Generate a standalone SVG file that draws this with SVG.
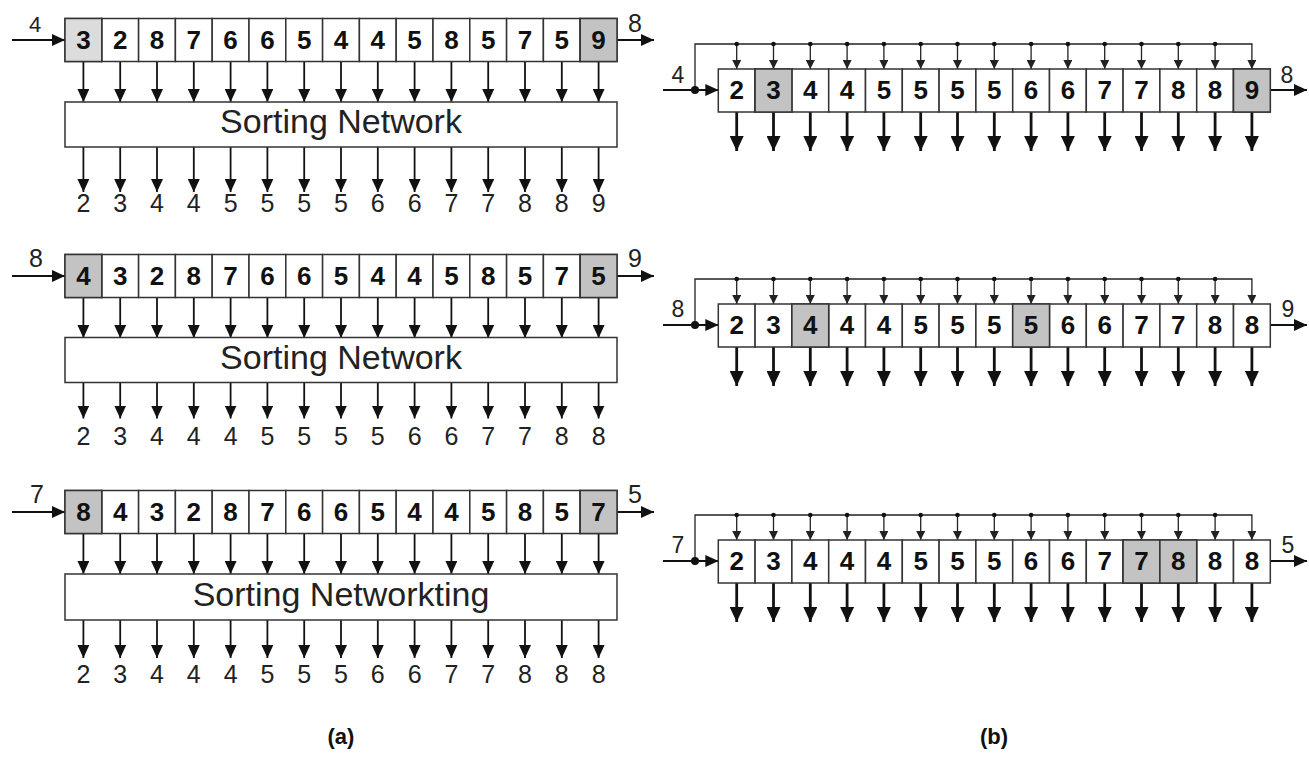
<svg xmlns="http://www.w3.org/2000/svg" xmlns:xlink="http://www.w3.org/1999/xlink" width="1309" height="758" viewBox="0 0 1309 758">
<style>
.cell{fill:#fff;stroke:#333;stroke-width:1.5}
.sh1{fill:#dcdcdc;stroke:#333;stroke-width:1.5}
.sh2{fill:#c3c3c3;stroke:#333;stroke-width:1.5}
.box{fill:#fff;stroke:#333;stroke-width:1.5}
.d{font-family:"Liberation Sans",Arial,sans-serif;font-weight:bold;font-size:26px;text-anchor:middle;fill:#111}
.o{font-family:"Liberation Sans",Arial,sans-serif;font-size:25px;text-anchor:middle;fill:#222}
.lbl{font-family:"Liberation Sans",Arial,sans-serif;font-size:25px;text-anchor:middle;fill:#222}
.sn{font-family:"Liberation Sans",Arial,sans-serif;font-size:34px;text-anchor:middle;fill:#222}
.cap{font-family:"Liberation Sans",Arial,sans-serif;font-weight:bold;font-size:22px;text-anchor:middle;fill:#111}
.ar{stroke:#111;stroke-width:1.8;fill:none;marker-end:url(#ah)}
.art{stroke:#111;stroke-width:2.8;fill:none;marker-end:url(#aht)}
.ars{stroke:#222;stroke-width:1.3;fill:none;marker-end:url(#ahs)}
.dot{fill:#111}
</style>
<defs>
<marker id="ah" markerUnits="userSpaceOnUse" viewBox="0 0 13 12" markerWidth="13" markerHeight="12" refX="13" refY="6" orient="auto"><path d="M0,0L13,6L0,12z" fill="#111"/></marker>
<marker id="aht" markerUnits="userSpaceOnUse" viewBox="0 0 15 14" markerWidth="15" markerHeight="14" refX="15" refY="7" orient="auto"><path d="M0,0L15,7L0,14z" fill="#111"/></marker>
<marker id="ahs" markerUnits="userSpaceOnUse" viewBox="0 0 9 9" markerWidth="9" markerHeight="9" refX="9" refY="4.5" orient="auto"><path d="M0,0L9,4.5L0,9z" fill="#222"/></marker>
<g id="lrow">
<rect class="cell" x="65" y="0" width="36.8" height="43"/><rect class="cell" x="101.8" y="0" width="36.8" height="43"/><rect class="cell" x="138.6" y="0" width="36.8" height="43"/><rect class="cell" x="175.4" y="0" width="36.8" height="43"/><rect class="cell" x="212.2" y="0" width="36.8" height="43"/><rect class="cell" x="249" y="0" width="36.8" height="43"/><rect class="cell" x="285.8" y="0" width="36.8" height="43"/><rect class="cell" x="322.6" y="0" width="36.8" height="43"/><rect class="cell" x="359.4" y="0" width="36.8" height="43"/><rect class="cell" x="396.2" y="0" width="36.8" height="43"/><rect class="cell" x="433" y="0" width="36.8" height="43"/><rect class="cell" x="469.8" y="0" width="36.8" height="43"/><rect class="cell" x="506.6" y="0" width="36.8" height="43"/><rect class="cell" x="543.4" y="0" width="36.8" height="43"/><rect class="cell" x="580.2" y="0" width="36.8" height="43"/>
</g>
<g id="rrow">
<rect class="cell" x="718.3" y="0" width="36.8" height="43"/><rect class="cell" x="755.1" y="0" width="36.8" height="43"/><rect class="cell" x="791.9" y="0" width="36.8" height="43"/><rect class="cell" x="828.7" y="0" width="36.8" height="43"/><rect class="cell" x="865.5" y="0" width="36.8" height="43"/><rect class="cell" x="902.3" y="0" width="36.8" height="43"/><rect class="cell" x="939.1" y="0" width="36.8" height="43"/><rect class="cell" x="975.9" y="0" width="36.8" height="43"/><rect class="cell" x="1012.7" y="0" width="36.8" height="43"/><rect class="cell" x="1049.5" y="0" width="36.8" height="43"/><rect class="cell" x="1086.3" y="0" width="36.8" height="43"/><rect class="cell" x="1123.1" y="0" width="36.8" height="43"/><rect class="cell" x="1159.9" y="0" width="36.8" height="43"/><rect class="cell" x="1196.7" y="0" width="36.8" height="43"/><rect class="cell" x="1233.5" y="0" width="36.8" height="43"/>
</g>
<g id="ld40">
<line class="ar" x1="83.4" y1="0" x2="83.4" y2="40"/><line class="ar" x1="120.2" y1="0" x2="120.2" y2="40"/><line class="ar" x1="157" y1="0" x2="157" y2="40"/><line class="ar" x1="193.8" y1="0" x2="193.8" y2="40"/><line class="ar" x1="230.6" y1="0" x2="230.6" y2="40"/><line class="ar" x1="267.4" y1="0" x2="267.4" y2="40"/><line class="ar" x1="304.2" y1="0" x2="304.2" y2="40"/><line class="ar" x1="341" y1="0" x2="341" y2="40"/><line class="ar" x1="377.8" y1="0" x2="377.8" y2="40"/><line class="ar" x1="414.6" y1="0" x2="414.6" y2="40"/><line class="ar" x1="451.4" y1="0" x2="451.4" y2="40"/><line class="ar" x1="488.2" y1="0" x2="488.2" y2="40"/><line class="ar" x1="525" y1="0" x2="525" y2="40"/><line class="ar" x1="561.8" y1="0" x2="561.8" y2="40"/><line class="ar" x1="598.6" y1="0" x2="598.6" y2="40"/>
</g>
<g id="ld45">
<line class="ar" x1="83.4" y1="0" x2="83.4" y2="45"/><line class="ar" x1="120.2" y1="0" x2="120.2" y2="45"/><line class="ar" x1="157" y1="0" x2="157" y2="45"/><line class="ar" x1="193.8" y1="0" x2="193.8" y2="45"/><line class="ar" x1="230.6" y1="0" x2="230.6" y2="45"/><line class="ar" x1="267.4" y1="0" x2="267.4" y2="45"/><line class="ar" x1="304.2" y1="0" x2="304.2" y2="45"/><line class="ar" x1="341" y1="0" x2="341" y2="45"/><line class="ar" x1="377.8" y1="0" x2="377.8" y2="45"/><line class="ar" x1="414.6" y1="0" x2="414.6" y2="45"/><line class="ar" x1="451.4" y1="0" x2="451.4" y2="45"/><line class="ar" x1="488.2" y1="0" x2="488.2" y2="45"/><line class="ar" x1="525" y1="0" x2="525" y2="45"/><line class="ar" x1="561.8" y1="0" x2="561.8" y2="45"/><line class="ar" x1="598.6" y1="0" x2="598.6" y2="45"/>
</g>
<g id="ld36">
<line class="ar" x1="83.4" y1="0" x2="83.4" y2="36"/><line class="ar" x1="120.2" y1="0" x2="120.2" y2="36"/><line class="ar" x1="157" y1="0" x2="157" y2="36"/><line class="ar" x1="193.8" y1="0" x2="193.8" y2="36"/><line class="ar" x1="230.6" y1="0" x2="230.6" y2="36"/><line class="ar" x1="267.4" y1="0" x2="267.4" y2="36"/><line class="ar" x1="304.2" y1="0" x2="304.2" y2="36"/><line class="ar" x1="341" y1="0" x2="341" y2="36"/><line class="ar" x1="377.8" y1="0" x2="377.8" y2="36"/><line class="ar" x1="414.6" y1="0" x2="414.6" y2="36"/><line class="ar" x1="451.4" y1="0" x2="451.4" y2="36"/><line class="ar" x1="488.2" y1="0" x2="488.2" y2="36"/><line class="ar" x1="525" y1="0" x2="525" y2="36"/><line class="ar" x1="561.8" y1="0" x2="561.8" y2="36"/><line class="ar" x1="598.6" y1="0" x2="598.6" y2="36"/>
</g>
<g id="ld38">
<line class="ar" x1="83.4" y1="0" x2="83.4" y2="38"/><line class="ar" x1="120.2" y1="0" x2="120.2" y2="38"/><line class="ar" x1="157" y1="0" x2="157" y2="38"/><line class="ar" x1="193.8" y1="0" x2="193.8" y2="38"/><line class="ar" x1="230.6" y1="0" x2="230.6" y2="38"/><line class="ar" x1="267.4" y1="0" x2="267.4" y2="38"/><line class="ar" x1="304.2" y1="0" x2="304.2" y2="38"/><line class="ar" x1="341" y1="0" x2="341" y2="38"/><line class="ar" x1="377.8" y1="0" x2="377.8" y2="38"/><line class="ar" x1="414.6" y1="0" x2="414.6" y2="38"/><line class="ar" x1="451.4" y1="0" x2="451.4" y2="38"/><line class="ar" x1="488.2" y1="0" x2="488.2" y2="38"/><line class="ar" x1="525" y1="0" x2="525" y2="38"/><line class="ar" x1="561.8" y1="0" x2="561.8" y2="38"/><line class="ar" x1="598.6" y1="0" x2="598.6" y2="38"/>
</g>
<g id="rfb">
<path class="ars" d="M695,90V44H1251.9V69"/>
<line class="ars" x1="736.7" y1="44" x2="736.7" y2="69"/><line class="ars" x1="773.5" y1="44" x2="773.5" y2="69"/><line class="ars" x1="810.3" y1="44" x2="810.3" y2="69"/><line class="ars" x1="847.1" y1="44" x2="847.1" y2="69"/><line class="ars" x1="883.9" y1="44" x2="883.9" y2="69"/><line class="ars" x1="920.7" y1="44" x2="920.7" y2="69"/><line class="ars" x1="957.5" y1="44" x2="957.5" y2="69"/><line class="ars" x1="994.3" y1="44" x2="994.3" y2="69"/><line class="ars" x1="1031.1" y1="44" x2="1031.1" y2="69"/><line class="ars" x1="1067.9" y1="44" x2="1067.9" y2="69"/><line class="ars" x1="1104.7" y1="44" x2="1104.7" y2="69"/><line class="ars" x1="1141.5" y1="44" x2="1141.5" y2="69"/><line class="ars" x1="1178.3" y1="44" x2="1178.3" y2="69"/><line class="ars" x1="1215.1" y1="44" x2="1215.1" y2="69"/>
<circle class="dot" cx="736.7" cy="44" r="2.3"/><circle class="dot" cx="773.5" cy="44" r="2.3"/><circle class="dot" cx="810.3" cy="44" r="2.3"/><circle class="dot" cx="847.1" cy="44" r="2.3"/><circle class="dot" cx="883.9" cy="44" r="2.3"/><circle class="dot" cx="920.7" cy="44" r="2.3"/><circle class="dot" cx="957.5" cy="44" r="2.3"/><circle class="dot" cx="994.3" cy="44" r="2.3"/><circle class="dot" cx="1031.1" cy="44" r="2.3"/><circle class="dot" cx="1067.9" cy="44" r="2.3"/><circle class="dot" cx="1104.7" cy="44" r="2.3"/><circle class="dot" cx="1141.5" cy="44" r="2.3"/><circle class="dot" cx="1178.3" cy="44" r="2.3"/><circle class="dot" cx="1215.1" cy="44" r="2.3"/>
<line class="ar" x1="663" y1="90" x2="718.3" y2="90"/>
<circle class="dot" cx="695" cy="90" r="4"/>
<line class="ar" x1="1270.3" y1="90" x2="1307" y2="90"/>
</g>
<g id="rout">
<line class="art" x1="736.7" y1="112" x2="736.7" y2="151"/><line class="art" x1="773.5" y1="112" x2="773.5" y2="151"/><line class="art" x1="810.3" y1="112" x2="810.3" y2="151"/><line class="art" x1="847.1" y1="112" x2="847.1" y2="151"/><line class="art" x1="883.9" y1="112" x2="883.9" y2="151"/><line class="art" x1="920.7" y1="112" x2="920.7" y2="151"/><line class="art" x1="957.5" y1="112" x2="957.5" y2="151"/><line class="art" x1="994.3" y1="112" x2="994.3" y2="151"/><line class="art" x1="1031.1" y1="112" x2="1031.1" y2="151"/><line class="art" x1="1067.9" y1="112" x2="1067.9" y2="151"/><line class="art" x1="1104.7" y1="112" x2="1104.7" y2="151"/><line class="art" x1="1141.5" y1="112" x2="1141.5" y2="151"/><line class="art" x1="1178.3" y1="112" x2="1178.3" y2="151"/><line class="art" x1="1215.1" y1="112" x2="1215.1" y2="151"/><line class="art" x1="1251.9" y1="112" x2="1251.9" y2="151"/>
</g>
</defs>
<rect width="1309" height="758" fill="#fff"/>

<!-- (a) panel 1 -->
<g id="a1">
<g class="connectors">
<line class="ar" x1="12" y1="40" x2="65" y2="40"/>
<use href="#ld40" y="62"/>
<use href="#ld45" y="147"/>
<line class="ar" x1="617" y1="40" x2="654" y2="40"/>
</g>
<text class="lbl" x="35" y="32" style="font-size:22px">4</text>
<text class="lbl" x="635" y="32">8</text>
<g id="a1-cells">
<use href="#lrow" y="18.5"/>
<rect class="sh1" x="65" y="18.5" width="36.8" height="43"/>
<rect class="sh2" x="580.2" y="18.5" width="36.8" height="43"/>
<text class="d" x="83.4 120.2 157 193.8 230.6 267.4 304.2 341 377.8 414.6 451.4 488.2 525 561.8 598.6" y="49">328766544585759</text>
</g>
<g id="a1-net">
<rect class="box" x="65" y="102" width="552" height="45"/>
<text class="sn" x="341" y="133">Sorting Network</text>
</g>
<text class="o" x="83.4 120.2 157 193.8 230.6 267.4 304.2 341 377.8 414.6 451.4 488.2 525 561.8 598.6" y="212">234455556677889</text>
</g>

<!-- (a) panel 2 -->
<g id="a2" transform="translate(0,236)">
<g class="connectors">
<line class="ar" x1="12" y1="40" x2="65" y2="40"/>
<use href="#ld40" y="62"/>
<use href="#ld36" y="146.5"/>
<line class="ar" x1="617" y1="40" x2="654" y2="40"/>
</g>
<text class="lbl" x="36" y="30.5">8</text>
<text class="lbl" x="635" y="30.5">9</text>
<g id="a2-cells">
<use href="#lrow" y="18.5"/>
<rect class="sh2" x="65" y="18.5" width="36.8" height="43"/>
<rect class="sh2" x="580.2" y="18.5" width="36.8" height="43"/>
<text class="d" x="83.4 120.2 157 193.8 230.6 267.4 304.2 341 377.8 414.6 451.4 488.2 525 561.8 598.6" y="49">432876654458575</text>
</g>
<g id="a2-net">
<rect class="box" x="65" y="101.5" width="552" height="45"/>
<text class="sn" x="341" y="132.5">Sorting Network</text>
</g>
<text class="o" x="83.4 120.2 157 193.8 230.6 267.4 304.2 341 377.8 414.6 451.4 488.2 525 561.8 598.6" y="209">234445555667788</text>
</g>

<!-- (a) panel 3 -->
<g id="a3" transform="translate(0,472)">
<g class="connectors">
<line class="ar" x1="12" y1="40" x2="65" y2="40"/>
<use href="#ld40" y="62"/>
<use href="#ld38" y="148"/>
<line class="ar" x1="617" y1="40" x2="654" y2="40"/>
</g>
<text class="lbl" x="37" y="31">7</text>
<text class="lbl" x="635" y="31">5</text>
<g id="a3-cells">
<use href="#lrow" y="18.5"/>
<rect class="sh2" x="65" y="18.5" width="36.8" height="43"/>
<rect class="sh2" x="580.2" y="18.5" width="36.8" height="43"/>
<text class="d" x="83.4 120.2 157 193.8 230.6 267.4 304.2 341 377.8 414.6 451.4 488.2 525 561.8 598.6" y="49">843287665445857</text>
</g>
<g id="a3-net">
<rect class="box" x="65" y="102" width="552" height="46"/>
<text class="sn" x="341" y="133.5">Sorting Networkting</text>
</g>
<text class="o" x="83.4 120.2 157 193.8 230.6 267.4 304.2 341 377.8 414.6 451.4 488.2 525 561.8 598.6" y="211">234445556677888</text>
</g>

<!-- (b) panel 1 -->
<g id="b1">
<g class="connectors"><use href="#rfb"/><use href="#rout"/></g>
<text class="lbl" x="678" y="83" style="font-size:23px">4</text>
<text class="lbl" x="1287" y="83" style="font-size:23px">8</text>
<g id="b1-cells">
<use href="#rrow" y="69"/>
<rect class="sh2" x="755.1" y="69" width="36.8" height="43"/>
<rect class="sh2" x="1233.5" y="69" width="36.8" height="43"/>
<text class="d" x="736.7 773.5 810.3 847.1 883.9 920.7 957.5 994.3 1031.1 1067.9 1104.7 1141.5 1178.3 1215.1 1251.9" y="99">234455556677889</text>
</g>
</g>

<!-- (b) panel 2 -->
<g id="b2" transform="translate(0,235)">
<g class="connectors"><use href="#rfb"/><use href="#rout"/></g>
<text class="lbl" x="678" y="82" style="font-size:23px">8</text>
<text class="lbl" x="1288" y="82" style="font-size:23px">9</text>
<g id="b2-cells">
<use href="#rrow" y="69"/>
<rect class="sh2" x="791.9" y="69" width="36.8" height="43"/>
<rect class="sh2" x="1012.7" y="69" width="36.8" height="43"/>
<text class="d" x="736.7 773.5 810.3 847.1 883.9 920.7 957.5 994.3 1031.1 1067.9 1104.7 1141.5 1178.3 1215.1 1251.9" y="99">234445555667788</text>
</g>
</g>

<!-- (b) panel 3 -->
<g id="b3" transform="translate(0,471)">
<g class="connectors"><use href="#rfb"/><use href="#rout"/></g>
<text class="lbl" x="678" y="82" style="font-size:23px">7</text>
<text class="lbl" x="1288" y="82" style="font-size:23px">5</text>
<g id="b3-cells">
<use href="#rrow" y="69"/>
<rect class="sh2" x="1123.1" y="69" width="36.8" height="43"/>
<rect class="sh2" x="1159.9" y="69" width="36.8" height="43"/>
<text class="d" x="736.7 773.5 810.3 847.1 883.9 920.7 957.5 994.3 1031.1 1067.9 1104.7 1141.5 1178.3 1215.1 1251.9" y="99">234445556677888</text>
</g>
</g>

<text id="cap-a" class="cap" x="341" y="744">(a)</text>
<text id="cap-b" class="cap" x="994" y="744">(b)</text>
</svg>
